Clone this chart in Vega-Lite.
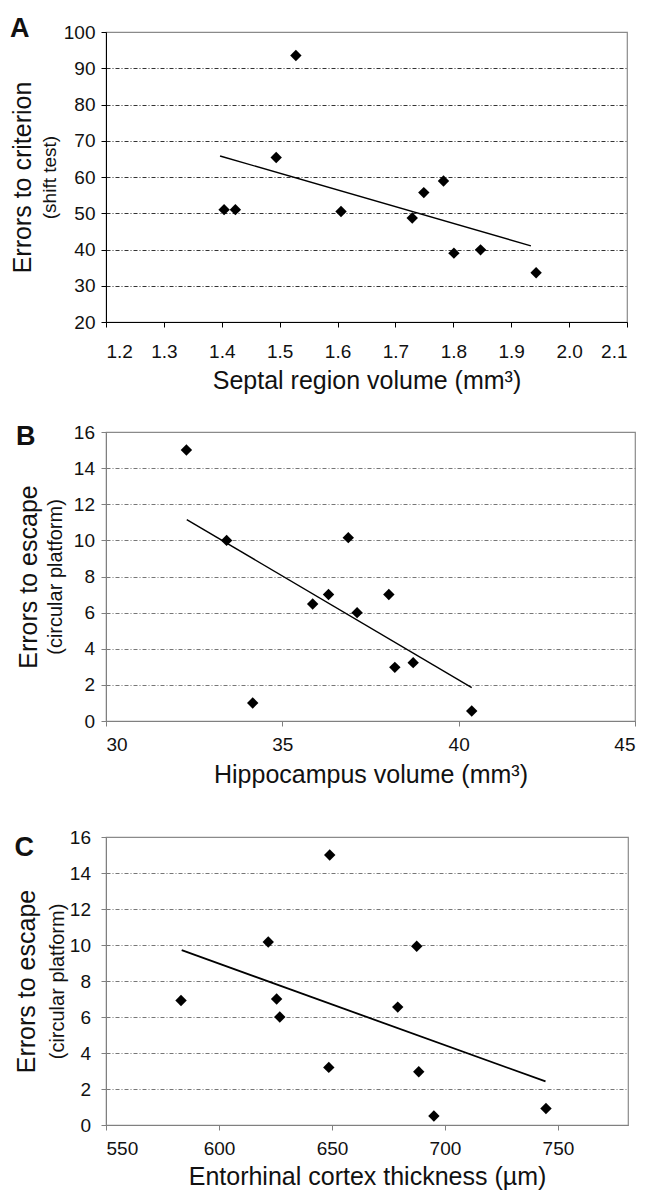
{
  "$schema": "https://vega.github.io/schema/vega-lite/v6.json",
  "background": "white",
  "padding": {"left": 9, "top": 14, "right": 5, "bottom": 5},
  "config": {
    "font": "Liberation Sans",
    "view": {"stroke": "#8a8a8a", "strokeWidth": 1.2},
    "axis": {"labelFont": "Liberation Sans", "titleFont": "Liberation Sans", "labelColor": "#111", "titleColor": "#111", "titleFontWeight": "normal", "labelFontSize": 19, "tickSize": 5, "labelPadding": 6, "gridDash": [4, 2, 1, 2], "gridWidth": 1},
    "title": {"font": "Liberation Sans", "fontSize": 27, "fontWeight": "bold", "color": "#111", "anchor": "start", "frame": "bounds"}
  },
  "datasets": {
    "a_pts": [
      {"septal": 1.404, "errors": 51.0}, {"septal": 1.4235, "errors": 51.0}, {"septal": 1.494, "errors": 65.4},
      {"septal": 1.528, "errors": 93.5}, {"septal": 1.606, "errors": 50.5}, {"septal": 1.729, "errors": 48.7},
      {"septal": 1.749, "errors": 55.7}, {"septal": 1.783, "errors": 58.9}, {"septal": 1.801, "errors": 39.0},
      {"septal": 1.847, "errors": 39.9}, {"septal": 1.943, "errors": 33.6}
    ],
    "a_fit": [{"septal": 1.397, "errors": 65.8}, {"septal": 1.934, "errors": 41.0}],
    "b_pts": [
      {"hippo": 32.28, "errors": 15.0}, {"hippo": 33.42, "errors": 10.0}, {"hippo": 34.16, "errors": 1.0},
      {"hippo": 35.86, "errors": 6.48}, {"hippo": 36.31, "errors": 7.0}, {"hippo": 36.87, "errors": 10.15},
      {"hippo": 37.12, "errors": 6.0}, {"hippo": 38.02, "errors": 7.0}, {"hippo": 38.19, "errors": 2.97},
      {"hippo": 38.71, "errors": 3.23}, {"hippo": 40.37, "errors": 0.55}
    ],
    "b_fit": [{"hippo": 32.29, "errors": 11.15}, {"hippo": 40.37, "errors": 1.85}],
    "c_pts": [
      {"thick": 583.2, "errors": 6.92}, {"thick": 621.8, "errors": 10.17}, {"thick": 625.5, "errors": 7.0},
      {"thick": 626.9, "errors": 6.0}, {"thick": 649.0, "errors": 15.0}, {"thick": 648.6, "errors": 3.2},
      {"thick": 679.1, "errors": 6.55}, {"thick": 687.5, "errors": 9.93}, {"thick": 688.4, "errors": 2.96},
      {"thick": 695.1, "errors": 0.5}, {"thick": 744.7, "errors": 0.92}
    ],
    "c_fit": [{"thick": 583.5, "errors": 9.71}, {"thick": 744.5, "errors": 2.42}]
  },
  "spacing": 28,
  "vconcat": [
    {
      "title": {"text": "A", "offset": -20},
      "width": 521, "height": 290,
      "resolve": {"axis": {"y": "independent"}},
      "layer": [
        {
          "data": {"name": "a_pts"},
          "mark": {"type": "point", "shape": "diamond", "filled": true, "color": "#000", "size": 130, "opacity": 1},
          "encoding": {
            "x": {"field": "septal", "type": "quantitative", "scale": {"domain": [1.2, 2.1], "nice": false, "zero": false},
              "axis": {"values": [1.2, 1.3, 1.4, 1.5, 1.6, 1.7, 1.8, 1.9, 2.0, 2.1], "format": ".1f", "title": "Septal region volume (mm³)", "titleFontSize": 25, "grid": false, "domainColor": "#000", "tickColor": "#000", "labelPadding": 15, "titlePadding": 7}},
            "y": {"field": "errors", "type": "quantitative", "scale": {"domain": [20, 100], "nice": false, "zero": false},
              "axis": {"orient": "left", "values": [20, 30, 40, 50, 60, 70, 80, 90, 100], "title": "(shift test)", "titleFontSize": 19, "titlePadding": 4, "labelPadding": 6, "domainColor": "#000", "tickColor": "#000", "grid": true, "gridColor": "#333",
                "gridOpacity": {"condition": {"test": "datum.value === 20 || datum.value === 100", "value": 0}, "value": 1}}}
          }
        },
        {
          "data": {"name": "a_fit"},
          "mark": {"type": "line", "color": "#000", "strokeWidth": 1.4},
          "encoding": {
            "x": {"field": "septal", "type": "quantitative"},
            "y": {"field": "errors", "type": "quantitative",
              "axis": {"orient": "left", "title": "Errors to criterion", "titleFontSize": 25, "labels": false, "ticks": false, "domain": false, "grid": false, "titlePadding": 71}}
          }
        }
      ]
    },
    {
      "title": {"text": "B", "offset": -28},
      "width": 529, "height": 289,
      "resolve": {"axis": {"y": "independent"}},
      "layer": [
        {
          "data": {"name": "b_pts"},
          "mark": {"type": "point", "shape": "diamond", "filled": true, "color": "#000", "size": 130, "opacity": 1},
          "encoding": {
            "x": {"field": "hippo", "type": "quantitative", "scale": {"domain": [30, 45], "nice": false, "zero": false},
              "axis": {"values": [30, 35, 40, 45], "title": "Hippocampus volume (mm³)", "titleFontSize": 25, "grid": false, "domainColor": "#808080", "tickColor": "#808080", "labelPadding": 9, "titlePadding": 8}},
            "y": {"field": "errors", "type": "quantitative", "scale": {"domain": [0, 16], "nice": false, "zero": false},
              "axis": {"orient": "left", "values": [0, 2, 4, 6, 8, 10, 12, 14, 16], "title": "(circular platform)", "titleFontSize": 20, "titlePadding": 8, "labelPadding": 6.5, "domainColor": "#808080", "tickColor": "#808080", "grid": true, "gridColor": "#777",
                "gridOpacity": {"condition": {"test": "datum.value === 0 || datum.value === 16", "value": 0}, "value": 1}}}
          }
        },
        {
          "data": {"name": "b_fit"},
          "mark": {"type": "line", "color": "#000", "strokeWidth": 1.4},
          "encoding": {
            "x": {"field": "hippo", "type": "quantitative"},
            "y": {"field": "errors", "type": "quantitative",
              "axis": {"orient": "left", "title": "Errors to escape", "titleFontSize": 25, "labels": false, "ticks": false, "domain": false, "grid": false, "titlePadding": 65}}
          }
        }
      ]
    },
    {
      "title": {"text": ["", "C"], "offset": -34, "lineHeight": 17},
      "width": 522, "height": 288,
      "resolve": {"axis": {"y": "independent"}},
      "layer": [
        {
          "data": {"name": "c_pts"},
          "mark": {"type": "point", "shape": "diamond", "filled": true, "color": "#000", "size": 130, "opacity": 1},
          "encoding": {
            "x": {"field": "thick", "type": "quantitative", "scale": {"domain": [550, 781], "nice": false, "zero": false},
              "axis": {"values": [550, 600, 650, 700, 750], "title": "Entorhinal cortex thickness (µm)", "titleFontSize": 25, "grid": false, "domainColor": "#808080", "tickColor": "#808080", "labelPadding": 9, "titlePadding": 6}},
            "y": {"field": "errors", "type": "quantitative", "scale": {"domain": [0, 16], "nice": false, "zero": false},
              "axis": {"orient": "left", "values": [0, 2, 4, 6, 8, 10, 12, 14, 16], "title": "(circular platform)", "titleFontSize": 20, "titlePadding": 2, "labelPadding": 10.5, "domainColor": "#808080", "tickColor": "#808080", "grid": true, "gridColor": "#777",
                "gridOpacity": {"condition": {"test": "datum.value === 0 || datum.value === 16", "value": 0}, "value": 1}}}
          }
        },
        {
          "data": {"name": "c_fit"},
          "mark": {"type": "line", "color": "#000", "strokeWidth": 1.8},
          "encoding": {
            "x": {"field": "thick", "type": "quantitative"},
            "y": {"field": "errors", "type": "quantitative",
              "axis": {"orient": "left", "title": "Errors to escape", "titleFontSize": 25, "labels": false, "ticks": false, "domain": false, "grid": false, "titlePadding": 66.5}}
          }
        }
      ]
    }
  ]
}
